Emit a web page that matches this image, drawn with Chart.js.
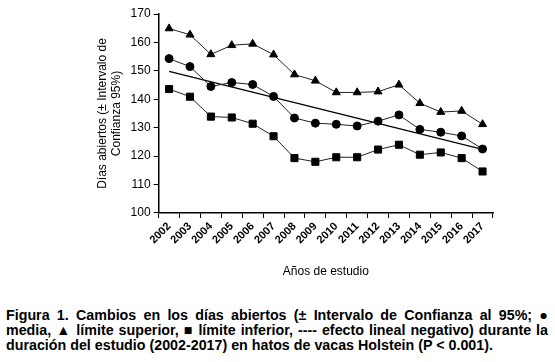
<!DOCTYPE html>
<html><head><meta charset="utf-8">
<script src="https://cdn.jsdelivr.net/npm/chart.js@4"></script>
<style>
html,body{margin:0;padding:0;background:#fff;width:555px;height:362px;overflow:hidden;}
#wrap{position:absolute;left:0;top:0;width:555px;height:283px;}
#cap{position:absolute;left:6px;top:308px;width:542px;font-family:"Liberation Sans",Arial,sans-serif;font-weight:bold;font-size:13px;line-height:14.8px;color:#000;}
#cap div{white-space:nowrap;}
#cap .j{text-align:justify;text-align-last:justify;}
#meas{position:absolute;visibility:hidden;white-space:nowrap;font-family:"Liberation Sans",Arial,sans-serif;font-weight:bold;font-size:20px;}
</style></head><body>
<div id="wrap"><canvas id="c" width="555" height="283"></canvas></div>
<div id="cap">
<div class="j">Figura 1. Cambios en los días abiertos (± Intervalo de Confianza al 95%; ●</div>
<div class="j">media, ▲ límite superior, ■ límite inferior, ---- efecto lineal negativo) durante la</div>
<div id="l3">duración del estudio (2002-2017) en hatos de vacas Holstein (P &lt; 0.001).</div>
</div>
<span id="meas">duración del estudio (2002-2017) en hatos de vacas Holstein (P &lt; 0.001).</span>
<script>
const years = ["2002","2003","2004","2005","2006","2007","2008","2009","2010","2011","2012","2013","2014","2015","2016","2017"];
const upper = [164.9,162.7,155.8,159.0,159.5,155.7,148.7,146.5,142.4,142.4,142.7,145.1,138.6,135.5,135.9,131.2];
const mean  = [154.3,151.5,144.5,145.9,145.2,141.0,133.4,131.6,131.2,130.6,132.3,134.5,129.4,128.4,127.1,122.5];
const lower = [143.6,140.9,133.9,133.6,131.4,127.0,119.3,118.0,119.6,119.6,122.3,124.0,120.5,121.3,119.3,114.6];
const trend = [149.8,null,null,null,null,null,null,null,null,null,null,null,null,null,null,122.4];
const yTicks = [100,110,120,130,140,150,160,170];

// fit caption font so the last line spans its width in the reference
(function(){
  const w = document.getElementById('meas').getBoundingClientRect().width;
  let fs = 20 * 487 / w;
  fs = Math.max(11, Math.min(15, fs));
  document.getElementById('cap').style.fontSize = fs.toFixed(2) + 'px';
})();

const font = "'Liberation Sans', Arial, sans-serif";
new Chart(document.getElementById('c'), {
  type: 'line',
  data: {
    labels: years,
    datasets: [
      {data: upper, borderColor:'#222', borderWidth:1, pointStyle:'triangle', pointRadius:4.6, pointBackgroundColor:'#000', pointBorderColor:'#000', tension:0},
      {data: mean, borderColor:'#222', borderWidth:1, pointStyle:'circle', pointRadius:4, pointBackgroundColor:'#000', pointBorderColor:'#000', tension:0},
      {data: lower, borderColor:'#222', borderWidth:1, pointStyle:'rect', pointRadius:5, pointBackgroundColor:'#000', pointBorderColor:'#000', tension:0},
      {data: trend, borderColor:'#000', borderWidth:1.3, pointRadius:0, spanGaps:true, tension:0}
    ]
  },
  options: {
    responsive:false, animation:false,
    layout:{padding:{left:96,right:62,top:14,bottom:0}},
    plugins:{legend:{display:false}, tooltip:{enabled:false}},
    scales:{
      x:{
        offset:true,
        grid:{display:true, offset:true, drawOnChartArea:false, color:'#000', tickLength:5, lineWidth:1},
        border:{color:'#000', width:1.5},
        ticks:{color:'#000', font:{family:font, size:11, weight:'bold'}, maxRotation:45, minRotation:45, padding:2, autoSkip:false},
        title:{display:true, text:'Años de estudio', color:'#000', font:{family:font, size:12}, padding:{top:16}}
      },
      y:{
        min:100, max:170,
        afterBuildTicks: s => { s.ticks = yTicks.map(v => ({value:v})); },
        grid:{display:true, drawOnChartArea:false, color:'#000', tickLength:5, lineWidth:1},
        border:{color:'#000', width:1.5},
        ticks:{color:'#000', font:{family:font, size:12}, padding:3},
        title:{display:true, text:['Días abiertos (± Intervalo de','Confianza 95%)'], color:'#000', font:{family:font, size:12, lineHeight:1.15}, padding:{top:0,bottom:4}}
      }
    }
  }
});
</script>
</body></html>
